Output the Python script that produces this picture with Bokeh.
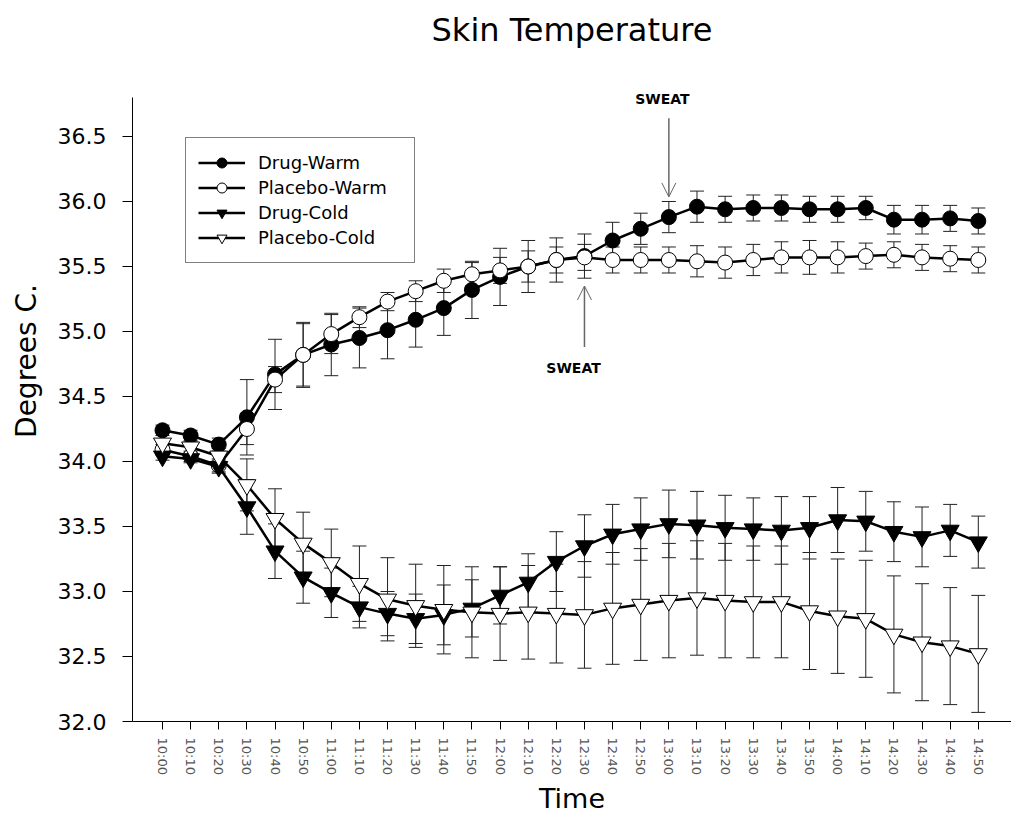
from bokeh.plotting import figure
from bokeh.models import (ColumnDataSource, Range1d, FixedTicker, Whisker, TeeHead,
                          Arrow, OpenHead, Label, Legend, LegendItem)
from bokeh.embed import file_html
from bokeh.resources import INLINE

times = ["10:00", "10:10", "10:20", "10:30", "10:40", "10:50",
         "11:00", "11:10", "11:20", "11:30", "11:40", "11:50",
         "12:00", "12:10", "12:20", "12:30", "12:40", "12:50",
         "13:00", "13:10", "13:20", "13:30", "13:40", "13:50",
         "14:00", "14:10", "14:20", "14:30", "14:40", "14:50"]

drug_warm = [34.24, 34.20, 34.13, 34.34, 34.67, 34.82, 34.90, 34.95, 35.01, 35.09,
             35.18, 35.32, 35.42, 35.50, 35.55, 35.58, 35.70, 35.79, 35.88, 35.96,
             35.94, 35.95, 35.95, 35.94, 35.94, 35.95, 35.86, 35.86, 35.87, 35.85]
drug_warm_se = [0.04, 0.04, 0.05, 0.29, 0.27, 0.25, 0.24, 0.23, 0.22, 0.21,
                0.21, 0.22, 0.22, 0.20, 0.17, 0.17, 0.14, 0.12, 0.12, 0.12,
                0.10, 0.10, 0.10, 0.10, 0.10, 0.09, 0.11, 0.11, 0.10, 0.10]

placebo_warm = [34.09, 34.04, 33.97, 34.25, 34.63, 34.82, 34.98, 35.11, 35.23, 35.31,
                35.39, 35.44, 35.47, 35.50, 35.55, 35.57, 35.55, 35.55, 35.55, 35.54,
                35.53, 35.55, 35.57, 35.57, 35.57, 35.58, 35.59, 35.57, 35.56, 35.55]
placebo_warm_se = [0.04, 0.04, 0.05, 0.12, 0.10, 0.24, 0.15, 0.08, 0.07, 0.08,
                   0.09, 0.09, 0.10, 0.12, 0.10, 0.10, 0.10, 0.10, 0.10, 0.12,
                   0.12, 0.12, 0.12, 0.13, 0.12, 0.10, 0.10, 0.10, 0.10, 0.10]

drug_cold = [34.04, 34.02, 33.96, 33.65, 33.31, 33.11, 32.99, 32.88, 32.83, 32.79,
             32.82, 32.87, 32.97, 33.07, 33.23, 33.35, 33.44, 33.48, 33.52, 33.51,
             33.49, 33.48, 33.47, 33.49, 33.55, 33.54, 33.46, 33.42, 33.47, 33.38]
drug_cold_se = [0.03, 0.03, 0.05, 0.21, 0.21, 0.20, 0.19, 0.16, 0.17, 0.19,
                0.23, 0.22, 0.22, 0.22, 0.23, 0.24, 0.23, 0.24, 0.26, 0.26,
                0.25, 0.24, 0.26, 0.24, 0.25, 0.23, 0.23, 0.23, 0.20, 0.20]

placebo_cold = [34.14, 34.11, 34.04, 33.82, 33.56, 33.37, 33.22, 33.06, 32.94, 32.89,
                32.86, 32.84, 32.83, 32.84, 32.83, 32.82, 32.87, 32.90, 32.93, 32.95,
                32.93, 32.92, 32.92, 32.85, 32.81, 32.79, 32.67, 32.61, 32.58, 32.52]
placebo_cold_se = [0.03, 0.04, 0.06, 0.20, 0.23, 0.24, 0.26, 0.29, 0.32, 0.32,
                   0.34, 0.35, 0.36, 0.36, 0.38, 0.41, 0.43, 0.43, 0.44, 0.44,
                   0.44, 0.43, 0.43, 0.45, 0.44, 0.45, 0.45, 0.45, 0.45, 0.45]

y_ticks = [32.0, 32.5, 33.0, 33.5, 34.0, 34.5, 35.0, 35.5, 36.0, 36.5]

FONT = "DejaVu Sans"
X0, X1 = -1.066, 30.18
Y0, Y_AXIS_TOP, Y1 = 32.0, 36.8, 37.546   # frame runs to the top of the page

p = figure(width=1011, height=816, output_backend="svg", toolbar_location=None,
           x_range=Range1d(X0, X1), y_range=Range1d(Y0, Y1),
           min_border_left=132, min_border_right=0, min_border_top=0, min_border_bottom=95)
p.outline_line_color = None
p.xgrid.visible = False
p.ygrid.visible = False

xs = list(range(len(times)))

p.xaxis.ticker = FixedTicker(ticks=xs)
p.xaxis.major_label_overrides = {i: t for i, t in enumerate(times)}
p.xaxis.major_label_orientation = "vertical"
p.xaxis.major_label_text_font = FONT
p.xaxis.major_label_text_font_size = "13px"
p.xaxis.major_label_text_color = "#555555"
p.xaxis.major_tick_out = 8
p.xaxis.major_tick_in = 0
p.xaxis.minor_tick_line_color = None
p.xaxis.major_label_standoff = 8
p.xaxis.axis_label = "Time"
p.xaxis.axis_label_text_font = FONT
p.xaxis.axis_label_text_font_size = "27px"
p.xaxis.axis_label_text_font_style = "normal"
p.xaxis.axis_label_text_color = "black"
p.xaxis.axis_label_standoff = 5

p.yaxis.bounds = (Y0, Y_AXIS_TOP)
p.yaxis.ticker = FixedTicker(ticks=y_ticks)
p.yaxis.major_label_overrides = {v: f"{v:.1f}" for v in y_ticks}
p.yaxis.major_label_text_font = FONT
p.yaxis.major_label_text_font_size = "22px"
p.yaxis.major_label_text_color = "black"
p.yaxis.major_tick_out = 10
p.yaxis.major_tick_in = 0
p.yaxis.minor_tick_line_color = None
p.yaxis.major_label_standoff = 16
p.yaxis.axis_label = "Degrees C."
p.yaxis.axis_label_text_font = FONT
p.yaxis.axis_label_text_font_size = "28px"
p.yaxis.axis_label_text_font_style = "normal"
p.yaxis.axis_label_text_color = "black"
p.yaxis.axis_label_standoff = 12

series = [
    ("Drug-Warm", drug_warm, drug_warm_se, "circle", "black", 15),
    ("Placebo-Warm", placebo_warm, placebo_warm_se, "circle", "white", 15),
    ("Drug-Cold", drug_cold, drug_cold_se, "inverted_triangle", "black", 18),
    ("Placebo-Cold", placebo_cold, placebo_cold_se, "inverted_triangle", "white", 18),
]

items = []
for name, vals, se, marker, fill, size in series:
    src = ColumnDataSource(dict(
        x=xs, y=vals,
        upper=[v + s for v, s in zip(vals, se)],
        lower=[v - s for v, s in zip(vals, se)],
    ))
    w = Whisker(source=src, base="x", upper="upper", lower="lower",
                line_color="#222222", line_width=1, level="underlay",
                upper_head=TeeHead(size=14, line_color="#222222", line_width=1),
                lower_head=TeeHead(size=14, line_color="#222222", line_width=1))
    p.add_layout(w)
    lr = p.line("x", "y", source=src, line_color="black", line_width=2.5)
    sr = p.scatter("x", "y", source=src, marker=marker, size=size,
                   fill_color=fill, line_color="black", line_width=1)
    items.append(LegendItem(label=name, renderers=[lr, sr]))

legend = Legend(items=items, location=(53, 458),
                label_text_font=FONT, label_text_font_size="18px", label_text_color="black",
                glyph_width=47, glyph_height=25, label_height=25, label_width=144,
                label_standoff=13, spacing=0, padding=12, margin=0,
                border_line_color="black", border_line_width=1,
                background_fill_color="white", background_fill_alpha=1)
p.add_layout(legend, "center")

# chart title, centred over the plotting area
p.add_layout(Label(x=(X0 + X1) / 2, y=37.32, text="Skin Temperature", text_align="center",
                   text_baseline="middle", text_font=FONT, text_font_size="32px",
                   text_color="black"))

arrow_color = "#666666"
p.add_layout(Arrow(x_start=18, y_start=36.64, x_end=18, y_end=36.035,
                   line_color=arrow_color, line_width=1.5,
                   end=OpenHead(size=14, line_color=arrow_color, line_width=1)))
p.add_layout(Arrow(x_start=15, y_start=34.88, x_end=15, y_end=35.35,
                   line_color=arrow_color, line_width=1.5,
                   end=OpenHead(size=14, line_color=arrow_color, line_width=1)))
p.add_layout(Label(x=17.77, y=36.79, text="SWEAT", text_align="center",
                   text_baseline="middle", text_font=FONT, text_font_size="14px",
                   text_font_style="bold", text_color="black"))
p.add_layout(Label(x=14.61, y=34.72, text="SWEAT", text_align="center",
                   text_baseline="middle", text_font=FONT, text_font_size="14px",
                   text_font_style="bold", text_color="black"))

open("out.html", "w").write(file_html(p, INLINE))
